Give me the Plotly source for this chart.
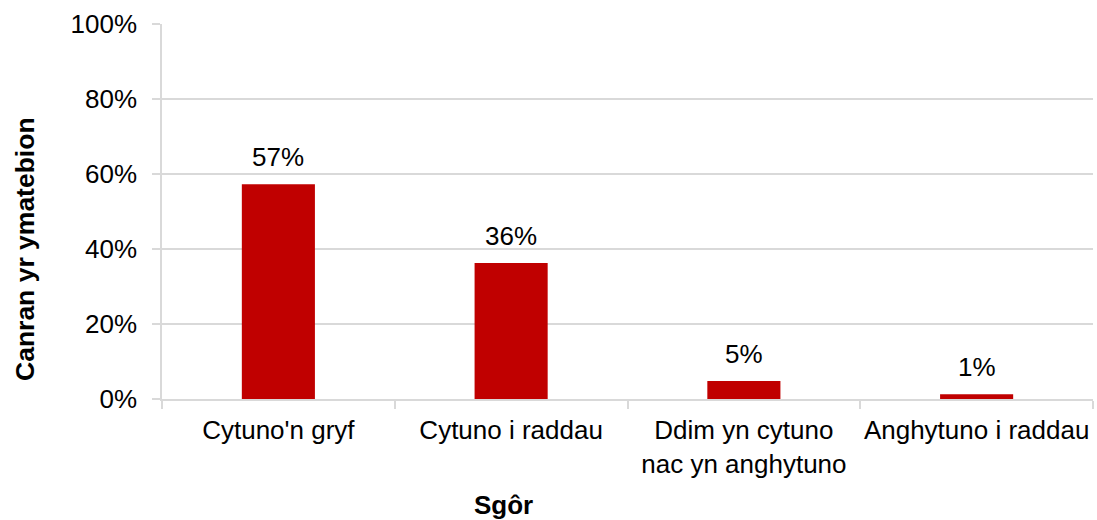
import plotly.graph_objects as go

categories = ["Cytuno'n gryf", "Cytuno i raddau", "Ddim yn cytuno<br>nac yn anghytuno", "Anghytuno i raddau"]
values = [57.3, 36.3, 4.8, 1.3]
labels = ["57%", "36%", "5%", "1%"]
y_ticks = [0, 20, 40, 60, 80, 100]
y_ticktext = [f"{v}%" for v in y_ticks]
x_title = "Sgôr"
y_title = "Canran yr ymatebion"

FONT = "Liberation Sans, Arial, sans-serif"
GRID = "#D9D9D9"

fig = go.Figure(go.Bar(
    x=categories, y=values,
    marker=dict(color="#C00000", line=dict(width=0)),
    width=0.314, hoverinfo="x+y",
))

for c, v, t in zip(categories, values, labels):
    fig.add_annotation(x=c, y=v, text=t, showarrow=False, yanchor="bottom",
                       yshift=10, font=dict(size=26, color="#000000", family=FONT))

# axis titles placed as annotations (offset as in the reference)
fig.add_annotation(xref="paper", yref="paper", x=0.3673, y=-0.2827,
                   text=f"<b>{x_title}</b>", showarrow=False,
                   xanchor="center", yanchor="middle",
                   font=dict(size=26, color="#000000", family=FONT))
fig.add_annotation(xref="paper", yref="paper", x=0, xshift=-137, y=0.4,
                   text=f"<b>{y_title}</b>", showarrow=False, textangle=-90,
                   xanchor="center", yanchor="middle",
                   font=dict(size=26.5, color="#000000", family=FONT))

fig.update_layout(
    width=1097, height=520,
    margin=dict(l=162, r=4, t=24, b=121, autoexpand=False),
    plot_bgcolor="white", paper_bgcolor="white",
    font=dict(family=FONT, size=26, color="#000000"),
    showlegend=False,
    xaxis=dict(
        automargin=False, tickangle=0,
        showline=True, linecolor=GRID, linewidth=1.5,
        ticks="outside", tickson="boundaries", ticklen=8, tickcolor=GRID, tickwidth=1.5,
        ticklabelstandoff=7,
        tickfont=dict(size=26), showgrid=False,
    ),
    yaxis=dict(
        automargin=False,
        range=[0, 100], tickvals=y_ticks, ticktext=y_ticktext,
        showgrid=True, gridcolor=GRID, gridwidth=1.5,
        showline=True, linecolor=GRID, linewidth=1.5,
        ticks="outside", ticklen=8, tickcolor=GRID, tickwidth=1.5,
        ticklabelstandoff=10,
        zeroline=False, tickfont=dict(size=26),
    ),
)

fig.write_html("out.html", config={"displayModeBar": False},
               post_script="document.body.style.margin='0';")
